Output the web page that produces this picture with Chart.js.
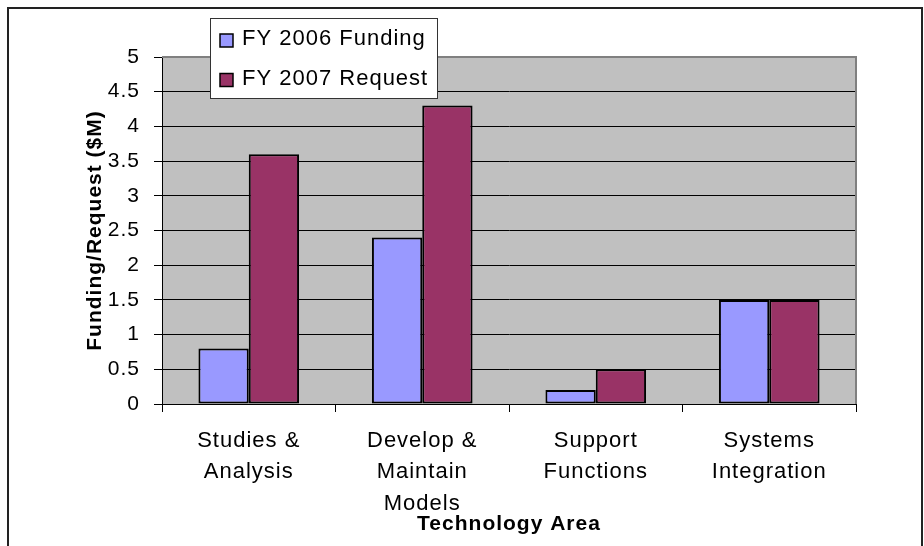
<!DOCTYPE html>
<html>
<head>
<meta charset="utf-8">
<script src="https://cdn.jsdelivr.net/npm/chart.js@4.4.0/dist/chart.umd.min.js"></script>
<style>
  html, body { margin: 0; padding: 0; background: #fff; }
  #wrap { width: 924px; height: 546px; position: relative; }
</style>
</head>
<body>
<div id="wrap"><canvas id="c" width="924" height="546"></canvas></div>
<script>
// ---- data ----
const categories = [
  ['Studies &', 'Analysis'],
  ['Develop &', 'Maintain', 'Models'],
  ['Support', 'Functions'],
  ['Systems', 'Integration']
];
const seriesNames = ['FY 2006 Funding', 'FY 2007 Request'];
const fy2006Funding = [0.8, 2.4, 0.2, 1.5];
const fy2007Request = [3.6, 4.3, 0.5, 1.5];
const yTickValues = [0, 0.5, 1, 1.5, 2, 2.5, 3, 3.5, 4, 4.5, 5];
const yTickLabels = ['0', '0.5', '1', '1.5', '2', '2.5', '3', '3.5', '4', '4.5', '5'];
const xAxisTitle = 'Technology Area';
const yAxisTitle = 'Funding/Request ($M)';

const FONT = '"Liberation Sans", Arial, sans-serif';
Chart.defaults.color = '#000';
Chart.defaults.font.family = FONT;

const spacingPlugin = {
  id: 'spacing',
  beforeUpdate(chart) { chart.ctx.letterSpacing = '1px'; },
  beforeLayout(chart) { chart.ctx.letterSpacing = '1px'; },
  beforeDraw(chart) {
    const ctx = chart.ctx;
    ctx.letterSpacing = '1px';
    // outer frame
    ctx.save();
    ctx.strokeStyle = '#222';
    ctx.lineWidth = 2;
    ctx.beginPath();
    ctx.moveTo(8, 546);
    ctx.lineTo(8, 8);
    ctx.lineTo(922, 8);
    ctx.lineTo(922, 546);
    ctx.stroke();
    // plot background
    const a = chart.chartArea;
    ctx.fillStyle = '#C0C0C0';
    ctx.fillRect(a.left, a.top, a.right - a.left, a.bottom - a.top);
    ctx.restore();
  },
  afterDatasetsDraw(chart) {
    const ctx = chart.ctx;
    const a = chart.chartArea;
    ctx.save();
    ctx.strokeStyle = '#808080';
    ctx.lineWidth = 2;
    ctx.beginPath();
    ctx.moveTo(a.left, a.top);
    ctx.lineTo(a.right, a.top);
    ctx.lineTo(a.right, a.bottom);
    ctx.stroke();
    ctx.restore();
  },
  afterDraw(chart) {
    const ctx = chart.ctx;
    ctx.save();
    ctx.letterSpacing = '1px';
    // legend box
    ctx.fillStyle = '#fff';
    ctx.fillRect(210, 18, 228, 81);
    ctx.strokeStyle = '#333';
    ctx.lineWidth = 1;
    ctx.strokeRect(210.5, 18.5, 227, 80);
    const rows = [{sq: 34, ty: 38.5}, {sq: 73.5, ty: 79}];
    chart.data.datasets.forEach((ds, i) => {
      const r = rows[i];
      ctx.fillStyle = ds.backgroundColor;
      ctx.fillRect(220, r.sq, 13, 13);
      ctx.strokeStyle = '#000';
      ctx.lineWidth = 1.5;
      ctx.strokeRect(220, r.sq, 13, 13);
      ctx.fillStyle = '#000';
      ctx.font = '22px ' + FONT;
      ctx.textBaseline = 'middle';
      ctx.textAlign = 'left';
      ctx.fillText(ds.label, 242, r.ty);
    });
    ctx.restore();
  }
};

new Chart(document.getElementById('c'), {
  type: 'bar',
  data: {
    labels: categories,
    datasets: [
      { label: seriesNames[0], data: fy2006Funding, backgroundColor: '#9999FF',
        borderColor: '#000', borderWidth: 2, borderSkipped: false },
      { label: seriesNames[1], data: fy2007Request, backgroundColor: '#993366',
        borderColor: '#000', borderWidth: 2, borderSkipped: false }
    ]
  },
  options: {
    responsive: false,
    animation: false,
    devicePixelRatio: 1,
    layout: { padding: { left: 0, top: 57, right: 68, bottom: 0 } },
    plugins: { legend: { display: false }, tooltip: { enabled: false } },
    datasets: { bar: { categoryPercentage: 0.58, barPercentage: 1 } },
    scales: {
      x: {
        afterFit(s) { s.height = 142; },
        grid: { drawOnChartArea: false, drawTicks: true, tickLength: 8, color: '#000', offset: true },
        border: { color: '#000', width: 1 },
        ticks: { font: { size: 22, lineHeight: 1.43 }, padding: 13, maxRotation: 0, autoSkip: false, color: '#000' },
        title: { display: true, text: xAxisTitle, font: { size: 21, weight: 'bold', lineHeight: 1.2 },
                 padding: { top: 0, bottom: 9 }, color: '#000' }
      },
      y: {
        min: 0, max: 5,
        afterFit(s) { s.width = 162; },
        afterBuildTicks(s) { s.ticks = yTickValues.map(v => ({ value: v })); },
        grid: {
          color: (c) => (c.tick && c.tick.value === 5 ? '#808080' : '#000'),
          tickColor: '#000', tickLength: 8, lineWidth: 1
        },
        border: { color: '#000', width: 1 },
        ticks: {
          font: { size: 21 }, padding: 14, color: '#000',
          callback: (v) => { const i = yTickValues.indexOf(v); return i >= 0 ? yTickLabels[i] : ''; }
        },
        title: { display: true, text: yAxisTitle, font: { size: 21, weight: 'bold', lineHeight: 1.2 },
                 padding: { top: 83, bottom: 0 }, color: '#000' }
      }
    }
  },
  plugins: [spacingPlugin]
});
</script>
</body>
</html>
